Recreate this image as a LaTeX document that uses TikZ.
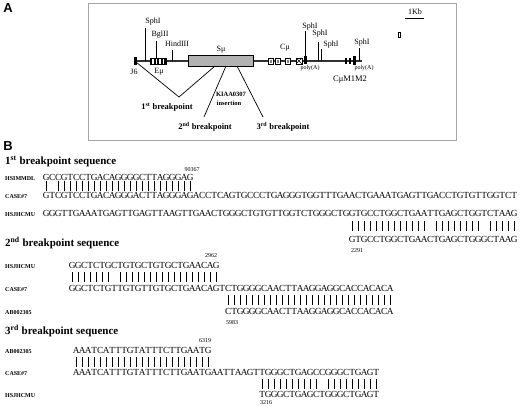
\documentclass[tikz,border=0pt]{standalone}
\usepackage{fontspec}
\setmainfont{Liberation Serif}
\newfontfamily\panelfont{Liberation Sans}
\makeatletter
\newcommand\seqrow[1]{\sq@loop#1\relax}
\def\sq@loop#1{\ifx#1\relax\else\makebox[6pt][c]{\sq@char#1}\expandafter\sq@loop\fi}
\def\sq@char#1{\ifx#1|\rule{0.45pt}{9.5pt}\else\ifx#1.\else#1\fi\fi}
\makeatother
\begin{document}
\begin{tikzpicture}[x=1pt,y=-1pt,
 site/.style={line width=0.7pt},
 lbl/.style={inner sep=0pt,font=\fontsize{8}{9}\selectfont},
 small/.style={inner sep=0pt,font=\fontsize{6}{7}\selectfont},
 bp/.style={inner sep=0pt,font=\bfseries\fontsize{8.5}{10}\selectfont},
 ins/.style={inner sep=0pt,font=\bfseries\fontsize{6.5}{7}\selectfont},
 title/.style={inner sep=0pt,anchor=base west,font=\bfseries\fontsize{11}{12}\selectfont},
 seqname/.style={inner sep=0pt,anchor=base west,font=\bfseries\fontsize{6}{7}\selectfont},
 seq/.style={inner sep=0pt,anchor=base west,font=\fontsize{9.3}{10}\selectfont},
 num/.style={inner sep=0pt,font=\fontsize{6}{7}\selectfont},
 panel/.style={inner sep=0pt,font=\panelfont\bfseries\fontsize{13}{14}\selectfont},
 bpline/.style={line width=0.7pt}]
\useasboundingbox (0,0) rectangle (520,405);
% ---------- Panel A ----------
\node[panel] (pA) at (8,8) {A};
\draw[gray!70,line width=0.8pt] (88,3) rectangle (456,140);
% scale
\node[lbl] (kb) at (415,12) {1Kb};
\coordinate (kbl) at (405,18); \coordinate (kbr) at (424,18);
\draw[line width=0.8pt] (kbl) -- (kbr);
\draw[line width=0.5pt] (398,32) rectangle (400,37);
% main line
\coordinate (L0) at (135,61); \coordinate (L1) at (362,61);
\draw[line width=1.1pt,black!80] (L0) -- (L1);
% J6
\fill (134,57) rectangle (136.5,65);
\node[lbl] (j6) at (134,72) {J6};
% Emu
\fill (150,58) rectangle (167,64.5);
\foreach \x in {152,155.5,159,162.5} \fill[white] (\x,59) rectangle +(1.6,4.5);
\node[lbl] (emu) at (159,72) {Eμ};
% Smu
\draw[fill=gray!60,line width=0.7pt] (188,55) rectangle (253,66);
\node[lbl] (smu) at (221,50) {Sμ};
% sites
\draw[site] (145,61) -- (145,28);
\node[lbl] (sph1) at (153,22) {SphI};
\draw[site] (156,58) -- (156,41);
\node[lbl] (bgl) at (160,35) {BglII};
\draw[site] (172,61) -- (172,50);
\node[lbl] (hind) at (177,44) {HindIII};
% C mu exons
\foreach \x in {268,275,285} {\draw[fill=white,line width=0.6pt] (\x,58) rectangle +(5,6);
  \fill[gray] (\x+1.5,59.5) rectangle +(2,3);}
\draw[fill=white,line width=0.6pt] (296,58) rectangle (302,64);
\draw[line width=0.4pt] (296,58) -- (302,64) (296,64) -- (302,58);
\node[lbl] (cmu) at (285,48) {Cμ};
\fill (304,56) rectangle (307,64);
\draw[site] (305.5,61) -- (305.5,31);
\node[lbl] (sph2) at (310,27) {SphI};
\draw[site] (318,61) -- (318,42);
\node[lbl] (sph3) at (320,34) {SphI};
\draw[site] (321.5,61) -- (321.5,49);
\node[lbl] (sph4) at (331,45) {SphI};
\node[small] (pa1) at (310,68) {poly(A)};
\fill (345,58) rectangle (347,64);
\fill (348.5,58) rectangle (350.5,64);
\fill (353,56) rectangle (356,65);
\draw[site] (359,61) -- (359,48);
\node[lbl] (sph5) at (362,43) {SphI};
\node[small] (pa2) at (364,68) {poly(A)};
\node[inner sep=0pt,font=\fontsize{8.5}{9}\selectfont] (cm12) at (350,80) {CμM1M2};
% breakpoints
\coordinate (b1a) at (136,62); \coordinate (b1m) at (179,97); \coordinate (b1b) at (215,66);
\draw[bpline] (b1a) -- (b1m) -- (b1b);
\node[bp] (bp1) at (167,107) {1\textsuperscript{st} breakpoint};
\coordinate (b2a) at (226,66); \coordinate (b2b) at (204,117);
\draw[bpline] (b2a) -- (b2b);
\node[bp] (bp2) at (205,127) {2\textsuperscript{nd} breakpoint};
\coordinate (b3a) at (237,66); \coordinate (b3b) at (263,117);
\draw[bpline] (b3a) -- (b3b);
\node[bp] (bp3) at (283,127) {3\textsuperscript{rd} breakpoint};
\node[ins] (kiaa) at (231,94) {KIAA0307};
\node[ins] (insr) at (229,103) {insertion};
% ---------- Panel B ----------
\node[panel] (pB) at (8,146) {B};
% 1st
\node[title] (t1) at (5,164) {1\textsuperscript{st} breakpoint sequence};
\node[num] (n90367) at (192,170) {90367};
\node[seqname] (l1a) at (5,180) {HSIMMDL};
\node[seq] (s1a) at (43,180) {\seqrow{GCCGTCCTGACAGGGGCTTAGGGAG}};
\node[seq] (m1a) at (43,190.5) {\seqrow{|.|||||||||||||||||||||||}};
\node[seqname] (l1b) at (5,198) {CASE\#7};
\node[seq] (s1b) at (43,198) {\seqrow{GTCGTCCTGACAGGGACTTAGGGAGACCTCAGTGCCCTGAGGGTGGTTTGAACTGAAATGAGTTGACCTGTGTTGGTCT}};
\node[seqname] (l1c) at (5,216) {HSJHCMU};
\node[seq] (s1c) at (43,216) {\seqrow{GGGTTGAAATGAGTTGAGTTAAGTTGAACTGGGCTGTGTTGGTCTGGGCTGGTGCCTGGCTGAATTGAGCTGGTCTAAG}};
\node[seq] (m1b) at (349,230.5) {\seqrow{|||||||||||||.||||||||.|||||}};
\node[seq] (s1d) at (349,242) {\seqrow{GTGCCTGGCTGAACTGAGCTGGGCTAAG}};
\node[num,anchor=west] (n2291) at (351,251) {2291};
% 2nd
\node[title] (t2) at (5,246) {2\textsuperscript{nd} breakpoint sequence};
\node[num] (n2962) at (211,256) {2962};
\node[seqname] (l2a) at (5,268) {HSJHCMU};
\node[seq] (s2a) at (69,268) {\seqrow{GGCTCTGCTGTGCTGTGCTGAACAG}};
\node[seq] (m2a) at (69,281.5) {\seqrow{|||||||.|||||||||||||||||}};
\node[seqname] (l2b) at (5,291) {CASE\#7};
\node[seq] (s2b) at (69,291) {\seqrow{GGCTCTGTTGTGTTGTGCTGAACAGTCTGGGGCAACTTAAGGAGGCACCACACA}};
\node[seq] (m2b) at (225,304.5) {\seqrow{||||||||||||||||||||||||||||}};
\node[seqname] (l2c) at (5,314) {AB002305};
\node[seq] (s2c) at (225,314) {\seqrow{CTGGGGCAACTTAAGGAGGCACCACACA}};
\node[num,anchor=west] (n5983) at (226,323) {5983};
% 3rd
\node[title] (t3) at (5,334) {3\textsuperscript{rd} breakpoint sequence};
\node[num] (n6319) at (205,341) {6319};
\node[seqname] (l3a) at (5,353) {AB002305};
\node[seq] (s3a) at (73,353) {\seqrow{AAATCATTTGTATTTCTTGAATG}};
\node[seq] (m3a) at (73,366.5) {\seqrow{|||||||||||||||||||||||}};
\node[seqname] (l3b) at (5,375) {CASE\#7};
\node[seq] (s3b) at (73,375) {\seqrow{AAATCATTTGTATTTCTTGAATGAATTAAGTTGGGCTGAGCCGGGCTGAGT}};
\node[seq] (m3b) at (259,388.5) {\seqrow{||||||||||.|||||||||}};
\node[seqname] (l3c) at (5,397) {HSJHCMU};
\node[seq] (s3c) at (259,397) {\seqrow{TGGGCTGAGCTGGGCTGAGT}};
\node[num,anchor=west] (n3216) at (260,403) {3216};
\end{tikzpicture}
\end{document}
